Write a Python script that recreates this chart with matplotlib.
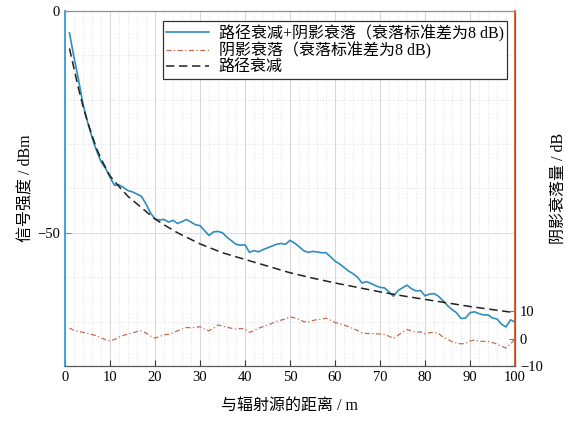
import matplotlib
matplotlib.use('Agg')
import matplotlib.pyplot as plt
from matplotlib.ticker import MultipleLocator

plt.rcParams['font.family'] = ['Liberation Serif', 'Noto Sans CJK SC']
plt.rcParams['axes.unicode_minus'] = True

# distance samples (m)
dist = list(range(1, 101))

# path loss + shadow fading, dBm (left axis)
total = [-5.0, -10.5, -15.5, -21.0, -25.0, -28.5, -31.5, -34.0, -35.5, -37.5,
         -39.3, -39.2, -39.8, -40.5, -40.8, -41.3, -41.8, -43.5, -45.5, -46.9,
         -47.1, -47.0, -47.6, -47.2, -47.9, -47.5, -47.0, -47.6, -48.2, -48.4,
         -49.5, -50.6, -49.8, -49.7, -50.0, -51.0, -51.8, -52.6, -52.8, -52.7,
         -54.4, -54.0, -54.3, -53.8, -53.4, -53.0, -52.6, -52.4, -52.6, -51.7,
         -52.3, -53.1, -54.0, -54.4, -54.2, -54.3, -54.5, -54.5, -55.4, -56.4,
         -57.0, -57.8, -58.6, -59.2, -60.0, -61.3, -61.0, -61.4, -61.9, -62.3,
         -62.4, -63.3, -64.3, -63.0, -62.4, -61.8, -62.6, -63.1, -63.0, -64.2,
         -63.8, -63.7, -64.3, -65.3, -66.4, -67.3, -68.0, -69.3, -69.2, -68.0,
         -67.8, -68.2, -68.5, -68.5, -69.2, -69.4, -70.6, -71.2, -69.6, -70.1]

# shadow fading, dB (right axis)
shadow = [3.9, 3.0, 2.7, 2.3, 2.0, 1.5, 1.1, 0.3, -0.4, -0.8,
          -0.3, 0.6, 1.2, 1.7, 2.1, 2.6, 2.9, 2.1, 1.0, 0.2,
          0.8, 1.4, 1.6, 2.2, 2.9, 3.5, 4.1, 4.0, 4.1, 4.4,
          3.5, 2.9, 3.8, 5.0, 4.6, 4.2, 3.8, 3.5, 3.7, 3.6,
          2.3, 3.0, 3.8, 4.4, 4.9, 5.6, 6.3, 6.8, 7.2, 8.0,
          7.6, 7.0, 6.3, 6.0, 6.6, 7.0, 7.1, 7.5, 6.8, 5.9,
          5.5, 5.0, 4.4, 3.7, 3.0, 2.1, 1.9, 1.9, 1.8, 1.7,
          1.5, 0.9, 0.1, 1.2, 2.4, 3.3, 2.9, 2.3, 2.5, 1.8,
          2.2, 2.3, 1.9, 0.6, -0.2, -1.1, -1.6, -1.9, -1.7, -0.9,
          -0.5, -0.9, -1.0, -1.0, -1.4, -2.0, -2.8, -3.4, -1.9, -0.1]

# path loss only, dBm (left axis)
pl_dist = [1, 2, 3, 4, 5, 6, 7, 8, 9, 10, 12, 14, 16, 18, 20, 22, 25, 28,
           30, 35, 40, 45, 50, 55, 60, 65, 70, 75, 80, 85, 90, 95, 100]
pl_loss = [-8.5, -13.0, -17.5, -21.5, -25.0, -28.0, -31.0, -33.3, -35.3, -37.2,
           -39.6, -41.8, -43.5, -45.2, -46.9, -48.2, -50.0, -51.5,
           -52.5, -54.5, -56.0, -57.5, -59.0, -60.2, -61.3, -62.3, -63.3,
           -64.2, -65.0, -65.8, -66.6, -67.3, -68.0]

labels = ['路径衰减+阴影衰落（衰落标准差为8 dB)',
          '阴影衰落（衰落标准差为8 dB)',
          '路径衰减']

blue = '#2f8dbe'
red = '#c8684f'
left_spine = '#3b9bd6'
right_spine = '#d9541a'

fig = plt.figure(figsize=(5.67, 4.21), dpi=100)
ax = fig.add_axes([0.1146, 0.1306, 0.7937, 0.844])
ax2 = ax.twinx()

l1, = ax.plot(dist, total, color=blue, lw=1.2, zorder=3)
l3, = ax.plot(pl_dist, pl_loss, color='#222222', lw=1.1, dashes=(5.5, 3), zorder=3)
l2, = ax2.plot(dist, shadow, color=red, lw=0.9, dashes=(4, 2, 1, 2))

ax.set_xlim(0, 100)
ax.set_ylim(-80, 0)
ax2.set_ylim(-10, 120)

ax.set_xticks(range(0, 101, 10))
ax.xaxis.set_minor_locator(MultipleLocator(2))
ax.set_yticks([-50, 0])
ax.yaxis.set_minor_locator(MultipleLocator(10))
ax2.set_yticks([-10, 0, 10])

ax.grid(True, which='major', axis='x', color='#d8d8d8', lw=0.8)
ax.grid(True, which='major', axis='y', color='#cfe2ef', lw=0.8)
ax.grid(True, which='minor', color='#d8d8d8', lw=0.6, linestyle=(0, (1, 2)))
ax.set_axisbelow(True)

ax.tick_params(axis='both', which='both', direction='in', labelsize=10.5)
ax.tick_params(which='minor', length=0)
ax.tick_params(axis='y', which='major', color=left_spine, length=4)
ax.tick_params(axis='x', which='major', length=4, color='#333333')
ax2.tick_params(axis='y', direction='in', labelsize=10.5, color=right_spine, length=4)

ax.spines['left'].set_color(left_spine)
ax.spines['left'].set_linewidth(1.3)
ax2.spines['right'].set_color(right_spine)
ax2.spines['right'].set_linewidth(1.3)
ax2.spines['left'].set_visible(False)
for a in (ax, ax2):
    a.spines['top'].set_color('#909090')
    a.spines['bottom'].set_color('#555555')

ax.set_xlabel('与辐射源的距离 / m', fontsize=11.5, labelpad=10)
ax.set_ylabel('信号强度 / dBm', fontsize=11.5, labelpad=2)
ax2.set_ylabel('阴影衰落量 / dB', fontsize=11.5, labelpad=6)

leg = ax2.legend([l1, l2, l3], labels, loc='upper right',
                 bbox_to_anchor=(0.982, 0.97), fontsize=11.5, fancybox=False,
                 framealpha=1, edgecolor='#333333', borderpad=0.2,
                 labelspacing=0.0, handlelength=2.7, handletextpad=0.6,
                 borderaxespad=0)
leg.get_frame().set_linewidth(0.9)

fig.savefig('out.png', dpi=100)
